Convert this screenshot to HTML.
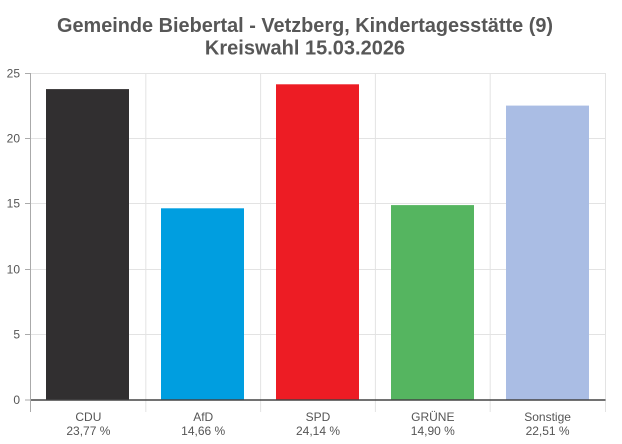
<!DOCTYPE html>
<html><head><meta charset="utf-8"><style>
html,body{margin:0;padding:0;background:#fff;}
svg{display:block;}
text{font-family:"Liberation Sans",Arial,sans-serif;}
</style></head><body>
<svg width="622" height="444" viewBox="0 0 622 444" xmlns="http://www.w3.org/2000/svg">
<rect width="622" height="444" fill="#fff"/>
<text x="305" y="32" text-anchor="middle" font-size="20" font-weight="bold" fill="#575757" textLength="496" lengthAdjust="spacingAndGlyphs">Gemeinde Biebertal - Vetzberg, Kindertagesstätte (9)</text>
<text x="305" y="54.5" text-anchor="middle" font-size="20" font-weight="bold" fill="#575757">Kreiswahl 15.03.2026</text>
<g stroke="#e3e3e3" stroke-width="1">
<line x1="31" y1="73.5" x2="605.5" y2="73.5"/>
<line x1="31" y1="138.5" x2="605.5" y2="138.5"/>
<line x1="31" y1="203.5" x2="605.5" y2="203.5"/>
<line x1="31" y1="269.5" x2="605.5" y2="269.5"/>
<line x1="31" y1="334.5" x2="605.5" y2="334.5"/>
<line x1="145.8" y1="73" x2="145.8" y2="400"/>
<line x1="260.6" y1="73" x2="260.6" y2="400"/>
<line x1="375.4" y1="73" x2="375.4" y2="400"/>
<line x1="490.2" y1="73" x2="490.2" y2="400"/>
<line x1="605.5" y1="73" x2="605.5" y2="400"/>
<line x1="145.8" y1="400" x2="145.8" y2="412"/>
<line x1="260.6" y1="400" x2="260.6" y2="412"/>
<line x1="375.4" y1="400" x2="375.4" y2="412"/>
<line x1="490.2" y1="400" x2="490.2" y2="412"/>
<line x1="605.5" y1="400" x2="605.5" y2="412"/>
</g>
<g stroke="#aaa" stroke-width="1">
<line x1="25" y1="73.5" x2="31" y2="73.5"/>
<line x1="25" y1="138.5" x2="31" y2="138.5"/>
<line x1="25" y1="203.5" x2="31" y2="203.5"/>
<line x1="25" y1="269.5" x2="31" y2="269.5"/>
<line x1="25" y1="334.5" x2="31" y2="334.5"/>
<line x1="25" y1="400" x2="31" y2="400"/>
<line x1="30.5" y1="73" x2="30.5" y2="412"/>
</g>
<rect x="46" y="89.1" width="83" height="310.9" fill="#312f30"/>
<rect x="161" y="208.3" width="83" height="191.7" fill="#009ee0"/>
<rect x="276" y="84.3" width="83" height="315.7" fill="#ed1c24"/>
<rect x="391" y="205.1" width="83" height="194.9" fill="#55b560"/>
<rect x="506" y="105.6" width="83" height="294.4" fill="#aabde4"/>
<line x1="31" y1="400" x2="605.5" y2="400" stroke="#444" stroke-width="1.5"/>
<g font-size="12" fill="#555" text-anchor="end">
<text x="20" y="77.5">25</text>
<text x="20" y="142.5">20</text>
<text x="20" y="207.5">15</text>
<text x="20" y="273.5">10</text>
<text x="20" y="338.5">5</text>
<text x="20" y="404">0</text>
</g>
<g font-size="12" fill="#555" text-anchor="middle">
<text x="88.4" y="421">CDU</text><text x="88.4" y="435">23,77 %</text>
<text x="203.2" y="421">AfD</text><text x="203.2" y="435">14,66 %</text>
<text x="318" y="421">SPD</text><text x="318" y="435">24,14 %</text>
<text x="432.8" y="421">GRÜNE</text><text x="432.8" y="435">14,90 %</text>
<text x="547.6" y="421">Sonstige</text><text x="547.6" y="435">22,51 %</text>
</g>
</svg>
</body></html>
